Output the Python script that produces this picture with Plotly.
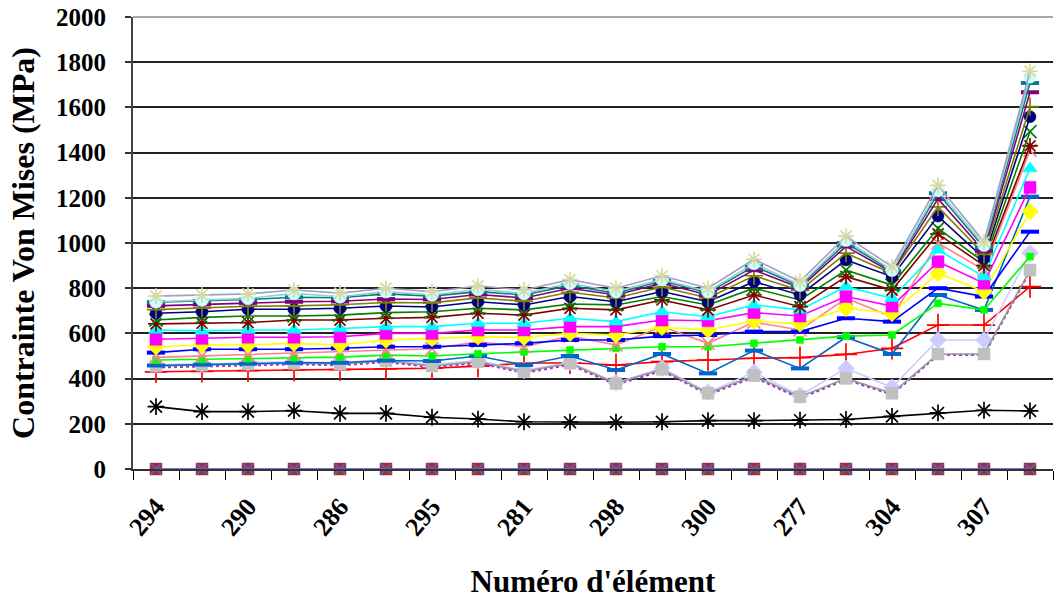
import plotly.graph_objects as go

# ---------------- data ----------------
point_index = list(range(20))
tick_labels = ["294", "290", "286", "295", "281", "298", "300", "277", "304", "307"]

zero_a = [0, 0, 0, 0, 0, 0, 0, 0, 0, 0, 0, 0, 0, 0, 0, 0, 0, 0, 0, 0]
zero_b = [0, 0, 0, 0, 0, 0, 0, 0, 0, 0, 0, 0, 0, 0, 0, 0, 0, 0, 0, 0]
black_star = [276, 254, 254, 258, 246, 246, 229, 221, 209, 207, 207, 209, 214, 214, 216, 219, 233, 248, 260, 257]
red_plus = [430, 432, 435, 438, 440, 443, 446, 455, 468, 470, 460, 475, 482, 490, 493, 507, 534, 637, 637, 807]
magenta_dot = [448, 452, 458, 462, 458, 472, 450, 468, 424, 460, 372, 434, 328, 405, 312, 394, 328, 503, 503, 872]
teal_dot = [452, 456, 462, 466, 462, 476, 453, 472, 428, 465, 376, 438, 332, 410, 316, 398, 332, 507, 506, 876]
gray_square = [456, 460, 465, 468, 465, 479, 456, 475, 431, 468, 379, 441, 335, 413, 320, 401, 335, 509, 509, 880]
lavender_diamond = [462, 464, 470, 474, 470, 484, 462, 480, 436, 472, 382, 446, 340, 428, 325, 445, 362, 571, 571, 956]
steel_dash = [458, 462, 466, 470, 470, 480, 478, 500, 460, 500, 438, 509, 423, 524, 445, 583, 509, 770, 704, 1205]
green_square = [482, 485, 488, 492, 495, 504, 500, 510, 518, 527, 534, 541, 541, 556, 571, 588, 593, 733, 704, 940]
salmon_x = [494, 500, 505, 512, 518, 525, 532, 563, 541, 588, 549, 630, 556, 650, 615, 755, 674, 1000, 880, 1410]
blue_dash = [515, 530, 530, 530, 534, 541, 541, 549, 556, 571, 571, 588, 593, 608, 608, 667, 652, 800, 763, 1050]
yellow_diamond = [541, 549, 549, 556, 549, 571, 578, 585, 583, 600, 593, 627, 615, 655, 642, 711, 689, 866, 785, 1139]
magenta_square = [574, 578, 583, 583, 585, 600, 600, 615, 615, 630, 630, 659, 656, 692, 677, 763, 721, 917, 822, 1246]
cyan_triangle = [615, 611, 615, 615, 622, 630, 630, 645, 645, 667, 652, 696, 674, 726, 704, 807, 755, 969, 851, 1330]
maroon_star = [642, 645, 648, 659, 659, 667, 671, 689, 681, 711, 704, 748, 704, 770, 718, 851, 792, 1040, 900, 1430]
green_x = [659, 671, 677, 677, 681, 692, 696, 711, 704, 730, 726, 763, 726, 800, 748, 880, 814, 1065, 915, 1493]
navy_circle = [689, 696, 707, 707, 711, 721, 717, 740, 726, 763, 740, 785, 740, 829, 770, 925, 851, 1119, 932, 1559]
olive_plus = [705, 712, 720, 722, 727, 737, 735, 757, 742, 782, 757, 805, 757, 855, 790, 955, 865, 1160, 950, 1603]
purple_dash = [722, 728, 735, 740, 742, 752, 750, 772, 757, 800, 770, 822, 770, 880, 802, 985, 870, 1195, 965, 1667]
teal_dash = [738, 744, 750, 760, 758, 775, 765, 785, 770, 812, 778, 832, 780, 897, 810, 1000, 877, 1220, 980, 1708]
cyan_circle = [740, 748, 755, 777, 762, 785, 770, 795, 777, 822, 785, 839, 785, 910, 814, 1013, 880, 1234, 991, 1736]
top_star = [765, 770, 775, 792, 778, 800, 785, 810, 792, 838, 800, 855, 800, 928, 830, 1030, 895, 1255, 1005, 1760]

# (values, line colour, marker symbol, marker colour, marker size, line dash)
series = [
    (zero_a, "#6F6FD8", "square", "#993333", 12, "solid"),
    (zero_b, "#6F6FD8", "x-thin-open", "#6A5ACD", 11, "solid"),
    (black_star, "#000000", "asterisk-open", "#000000", 14, "solid"),
    (red_plus, "#FF0000", "cross-thin-open", "#FF0000", 16, "solid"),
    (magenta_dot, "#FF00FF", "square", "#FF00FF", 7, "dot"),
    (teal_dot, "#008080", "square", "#00CCCC", 6, "dot"),
    (lavender_diamond, "#CCCCFF", "diamond", "#CCCCFF", 13, "solid"),
    (gray_square, "#999999", "square", "#C0C0C0", 12, "solid"),
    (steel_dash, "#0066CC", "line-ew-open", "#0066CC", 13, "solid"),
    (green_square, "#00FF00", "square", "#00FF00", 7, "solid"),
    (salmon_x, "#FF8080", "x-thin-open", "#FF8080", 13, "solid"),
    (blue_dash, "#0000FF", "line-ew-open", "#0000FF", 13, "solid"),
    (yellow_diamond, "#FFFF00", "diamond", "#FFFF00", 13, "solid"),
    (magenta_square, "#FF00FF", "square", "#FF00FF", 12, "solid"),
    (cyan_triangle, "#00FFFF", "triangle-up", "#00FFFF", 13, "solid"),
    (maroon_star, "#800000", "asterisk-open", "#800000", 13, "solid"),
    (green_x, "#008000", "x-thin-open", "#008000", 13, "solid"),
    (navy_circle, "#000080", "circle", "#000080", 12, "solid"),
    (olive_plus, "#808000", "cross-thin-open", "#808000", 13, "solid"),
    (purple_dash, "#800080", "line-ew-open", "#800080", 13, "solid"),
    (teal_dash, "#008080", "line-ew-open", "#008080", 13, "solid"),
    (cyan_circle, "#99CCCC", "circle", "#CCFFFF", 13, "solid"),
    (top_star, "#A0A0C8", "asterisk-open", "#D8D8A0", 13, "solid"),
]

fig = go.Figure()
for vals, lcol, sym, mcol, msize, dash in series:
    marker = dict(symbol=sym, size=msize, color=mcol)
    if sym.endswith("-open"):
        lw = 4 if sym.startswith("line") else 1.7
        marker["line"] = dict(color=mcol, width=lw)
    else:
        marker["line"] = dict(color=mcol, width=0.5)
    fig.add_trace(go.Scatter(
        x=point_index, y=vals, mode="lines+markers",
        line=dict(color=lcol, width=1.6, dash=dash),
        marker=marker, showlegend=False, hoverinfo="skip",
        cliponaxis=False,
    ))

serif = "Liberation Serif"
fig.update_layout(
    width=1054, height=603,
    margin=dict(l=133, r=1, t=17, b=134),
    paper_bgcolor="white", plot_bgcolor="white",
    shapes=[dict(type="line", xref="paper", yref="paper", x0=0, x1=1, y0=1, y1=1,
                 line=dict(color="#A8A8A8", width=2), layer="above")],
)
fig.update_xaxes(
    range=[-0.5, 19.5], tickmode="array",
    tickvals=point_index[::2], ticktext=tick_labels,
    tickangle=-50, ticks="", showgrid=False, zeroline=False,
    showline=True, linecolor="#333333", linewidth=2,
    ticklabelstandoff=10,
    tickfont=dict(family=serif, size=26, color="black", weight="bold"),
    minor=dict(ticks="outside", ticklen=9, tickwidth=1.3, tickcolor="#000000",
               tickmode="array", tickvals=[i - 0.5 for i in range(21)], showgrid=False),
    title=dict(text="Numéro d'élément", standoff=30,
               font=dict(family=serif, size=31, color="black", weight="bold")),
)
fig.update_yaxes(
    range=[0, 2000], dtick=200, tick0=0,
    ticks="outside", ticklen=6, tickwidth=1.5, tickcolor="#333333",
    showgrid=True, gridcolor="#222222", gridwidth=1.8, zeroline=False,
    showline=True, linecolor="#444444", linewidth=2,
    tickfont=dict(family=serif, size=25, color="black", weight="bold"),
    ticklabelstandoff=14,
    title=dict(text="Contrainte Von Mises (MPa)", standoff=12,
               font=dict(family=serif, size=32, color="black", weight="bold")),
)

fig.write_html("out.html", config={"displayModeBar": False},
               post_script="document.body.style.margin='0';")
